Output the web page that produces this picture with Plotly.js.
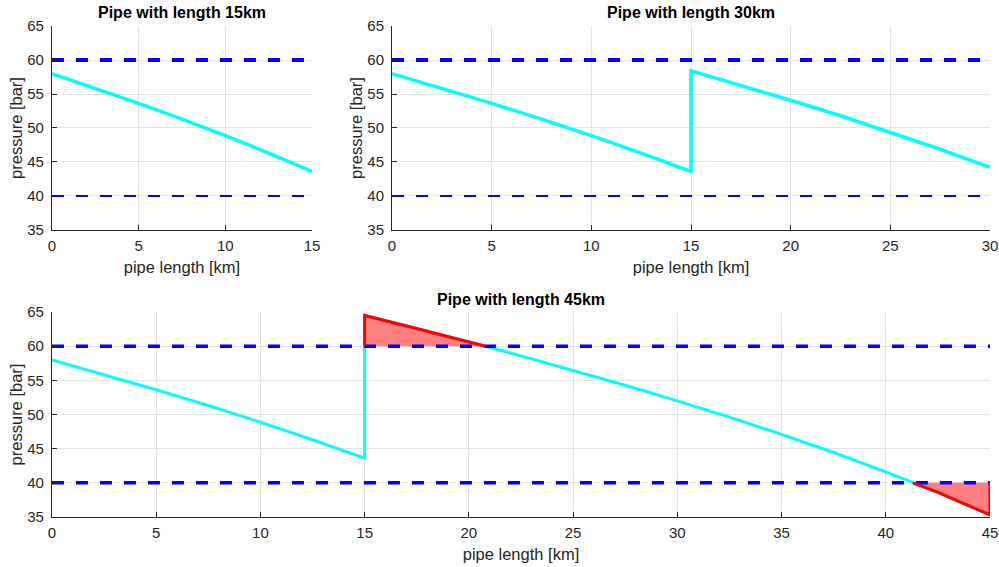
<!DOCTYPE html>
<html>
<head>
<meta charset="utf-8">
<script src="https://cdn.plot.ly/plotly-3.0.1.min.js"></script>
<style>html,body{margin:0;padding:0;background:#fff;}#chart{width:999px;height:567px;}</style>
</head>
<body>
<div id="chart"></div>
<script>
// ---- data ----
const titles = ["Pipe with length 15km", "Pipe with length 30km", "Pipe with length 45km"];
const xLabel = "pipe length [km]";
const yLabel = "pressure [bar]";
const pMax = 60;
const pMin = 40;

// first pipe section (0-15 km), same in every panel
const seg1X = [0, 2.5, 5, 7.5, 10, 12.5, 15];
const seg1P = [58.0, 55.86, 53.63, 51.31, 48.88, 46.31, 43.6];

// second section of the 30 km pipe
const seg30X = [15, 17.5, 20, 22.5, 25, 27.5, 30];
const seg30P = [58.4, 56.28, 54.08, 51.80, 49.40, 46.87, 44.2];

// second section of the 45 km pipe
const seg45X = [15, 17.5, 20, 20.8, 22.5, 25, 27.5, 30, 32.5, 35, 37.5, 40, 41.3, 42.5, 45];
const seg45P = [64.5, 62.59, 60.61, 60.0, 58.58, 56.47, 54.28, 51.99, 49.61, 47.1, 44.44, 41.6, 40.0, 38.6, 35.3];

const lengths = [15, 30, 45];
const xTicks = [[0,5,10,15],[0,5,10,15,20,25,30],[0,5,10,15,20,25,30,35,40,45]];
const yTicks = [35,40,45,50,55,60,65];

// ---- build traces ----
const CYAN = "#00ffff", BLUE = "#0000ff", RED = "#ff0000";
const traces = [];
const axSuffix = ["", "2", "3"];

function limitLine(k, val, w, dash) {
  traces.push({x:[0, lengths[k]], y:[val, val], xaxis:"x"+axSuffix[k], yaxis:"y"+axSuffix[k],
    mode:"lines", line:{color:BLUE, width:w, dash:dash}, hoverinfo:"skip", showlegend:false});
}

// panel 1
traces.push({x:seg1X, y:seg1P, xaxis:"x", yaxis:"y", mode:"lines", line:{color:CYAN, width:3.5}, showlegend:false});
limitLine(0, pMax, 4, "12px,12px");
limitLine(0, pMin, 2, "12px,12px");

// panel 2
traces.push({x:seg1X.concat(seg30X), y:seg1P.concat(seg30P), xaxis:"x2", yaxis:"y2", mode:"lines", line:{color:CYAN, width:3.5}, showlegend:false});
limitLine(1, pMax, 4, "12px,12px");
limitLine(1, pMin, 2, "12px,12px");

// panel 3
traces.push({x:seg1X.concat(seg45X), y:seg1P.concat(seg45P), xaxis:"x3", yaxis:"y3", mode:"lines", line:{color:CYAN, width:3}, showlegend:false});

// regions beyond limits
const hiX = [], hiP = [], loX = [], loP = [];
seg45X.forEach((x, i) => {
  if (seg45P[i] >= pMax) { hiX.push(x); hiP.push(seg45P[i]); }
  if (seg45P[i] <= pMin) { loX.push(x); loP.push(seg45P[i]); }
});
const hiPolyX = [hiX[0]].concat(hiX);
const hiPolyY = [pMax].concat(hiP);
const loPolyX = loX.concat([loX[loX.length-1]]);
const loPolyY = loP.concat([pMin]);

[[hiPolyX, hiPolyY], [loPolyX, loPolyY]].forEach(([px, py]) => {
  traces.push({x:px, y:py, xaxis:"x3", yaxis:"y3", mode:"lines", fill:"toself",
    fillcolor:"rgba(255,0,0,0.5)", line:{color:"#333333", width:1}, hoverinfo:"skip", showlegend:false});
});
limitLine(2, pMax, 3.5, "12px,12px");
limitLine(2, pMin, 3.5, "12px,12px");
[[hiPolyX, hiPolyY], [loPolyX, loPolyY]].forEach(([px, py]) => {
  traces.push({x:px, y:py, xaxis:"x3", yaxis:"y3", mode:"lines",
    line:{color:RED, width:3}, hoverinfo:"skip", showlegend:false});
});

// ---- layout ----
const FONT = "Liberation Sans, Arial, sans-serif";
const TXT = "#262626";
function xa(k, domain) {
  return {domain:domain, range:[0, lengths[k]], tickvals:xTicks[k], ticks:"inside", ticklen:5,
    tickcolor:TXT, showline:true, linecolor:TXT, linewidth:1, mirror:false,
    showgrid:true, gridcolor:"#e3e3e3", gridwidth:1, zeroline:false,
    tickfont:{family:FONT, size:15, color:TXT}, ticklabelstandoff:2,
    anchor:"y"+axSuffix[k],
    title:{text:xLabel, font:{family:FONT, size:16.5, color:TXT}, standoff:8}};
}
function ya(k, domain) {
  return {domain:domain, range:[35, 65], tickvals:yTicks, ticks:"inside", ticklen:5,
    tickcolor:TXT, showline:true, linecolor:TXT, linewidth:1, mirror:false,
    showgrid:true, gridcolor:"#e3e3e3", gridwidth:1, zeroline:false,
    tickfont:{family:FONT, size:15, color:TXT}, ticklabelstandoff:4,
    anchor:"x"+axSuffix[k],
    title:{text:yLabel, font:{family:FONT, size:16.5, color:TXT}, standoff:0}};
}
const topDom = [0.5944, 0.9541];
const botDom = [0.0882, 0.4497];
const TF = {family:FONT, size:16, color:"#000"};
const layout = {
  width:999, height:567, margin:{l:0, r:0, t:0, b:0},
  paper_bgcolor:"#ffffff", plot_bgcolor:"#ffffff", showlegend:false,
  xaxis:xa(0, [0.052, 0.3123]), yaxis:ya(0, topDom),
  xaxis2:xa(1, [0.3924, 0.991]), yaxis2:ya(1, topDom),
  xaxis3:xa(2, [0.052, 0.991]), yaxis3:ya(2, botDom),
  annotations:[
    {text:"<b>"+titles[0]+"</b>", xref:"paper", yref:"paper", x:(0.052+0.3123)/2, y:1-13/567, xanchor:"center", yanchor:"middle", showarrow:false, font:TF},
    {text:"<b>"+titles[1]+"</b>", xref:"paper", yref:"paper", x:(0.3924+0.991)/2, y:1-13/567, xanchor:"center", yanchor:"middle", showarrow:false, font:TF},
    {text:"<b>"+titles[2]+"</b>", xref:"paper", yref:"paper", x:(0.052+0.991)/2, y:1-299/567, xanchor:"center", yanchor:"middle", showarrow:false, font:TF}
  ]
};
Plotly.newPlot("chart", traces, layout, {displayModeBar:false, staticPlot:true});
</script>
</body>
</html>
